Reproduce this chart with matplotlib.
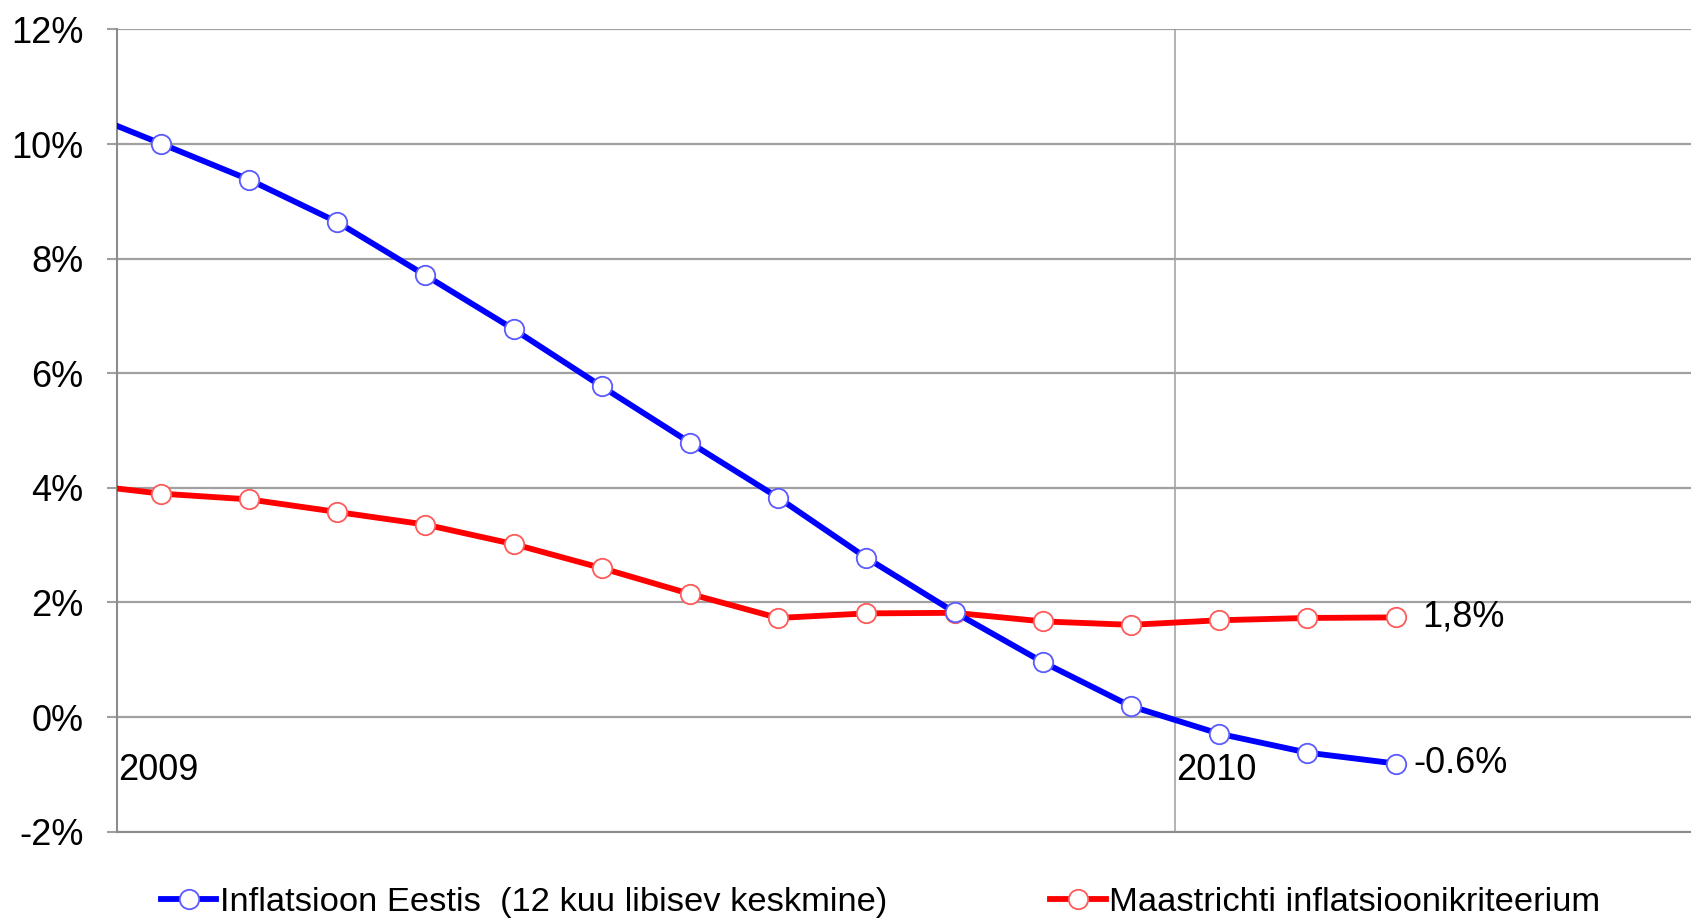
# Eesti inflatsioon vs Maastrichti kriteerium, 2009-2010
import numpy as np
import matplotlib
matplotlib.use("Agg")
import matplotlib.pyplot as plt

plt.rcParams["font.family"] = ["Liberation Sans", "DejaVu Sans"]

# kuud: 2008-12 ... 2010-03 (esimene punkt jääb telje taha, ilma markerita)
kuud = ["2008-12", "2009-01", "2009-02", "2009-03", "2009-04", "2009-05", "2009-06",
        "2009-07", "2009-08", "2009-09", "2009-10", "2009-11", "2009-12",
        "2010-01", "2010-02", "2010-03"]
eesti = [10.63, 10.01, 9.38, 8.64, 7.71, 6.77, 5.77, 4.79, 3.83, 2.78, 1.83,
         0.96, 0.19, -0.29, -0.62, -0.81]
maastricht = [4.08, 3.90, 3.80, 3.58, 3.36, 3.02, 2.60, 2.15, 1.73, 1.81, 1.82,
              1.67, 1.61, 1.69, 1.73, 1.74]
aasta_sildid = ["2009", "2010"]
lopp_sildid = ["1,8%", "-0.6%"]
y_ticks = [-2, 0, 2, 4, 6, 8, 10, 12]

x = np.arange(len(kuud)) - 1

fig = plt.figure(figsize=(16.91, 9.19), dpi=100)
ax = fig.add_axes([0.069, 0.095, 0.931, 0.8729])

ax.plot(x, eesti, color="#0000ff", lw=4.2, marker="o", ms=14, mfc="white",
        mec="#5a5aff", mew=1.3, markevery=slice(1, None), zorder=4,
        label="Inflatsioon Eestis  (12 kuu libisev keskmine)")
ax.plot(x, maastricht, color="#ff0000", lw=4.2, marker="o", ms=14, mfc="white",
        mec="#ff5a5a", mew=1.3, markevery=slice(1, None), zorder=3,
        label="Maastrichti inflatsioonikriteerium")

ax.set_xlim(-0.5, 17.35)
ax.set_ylim(-2, 12)
ax.set_yticks(y_ticks)
ax.set_yticklabels([f"{t}%" for t in y_ticks], fontsize=26)
ax.set_xticks([11.5])
ax.set_xticklabels([])
ax.tick_params(axis="x", length=0)
ax.tick_params(axis="y", length=7, width=1.5, color="#a0a0a0", pad=17)

ax.grid(axis="y", color="#a0a0a0", lw=1.6, zorder=0)
ax.grid(axis="x", color="#a6a6a6", lw=1.2, zorder=0)
for s in ["top", "right"]:
    ax.spines[s].set_visible(False)
ax.spines["left"].set_color("#8c8c8c")
ax.spines["left"].set_linewidth(1.5)
ax.spines["bottom"].set_color("#8c8c8c")
ax.spines["bottom"].set_linewidth(1.5)

# aastad
ax.text(-0.48, -0.93, aasta_sildid[0], fontsize=26, va="center", ha="left")
ax.text(11.51, -0.93, aasta_sildid[1], fontsize=26, va="center", ha="left")

# viimased väärtused
ax.annotate(lopp_sildid[0], xy=(x[-1], maastricht[-1]), xytext=(19.5, 0),
            textcoords="offset points", fontsize=26, va="center", ha="left")
ax.annotate(lopp_sildid[1], xy=(x[-1], eesti[-1]), xytext=(13, 0),
            textcoords="offset points", fontsize=26, va="center", ha="left")

fig.legend(loc="center left", bbox_to_anchor=(161 / 1691, 1 - 902 / 919),
           ncol=2, frameon=False, fontsize=24.8, handlelength=1.6,
           handletextpad=0.1, columnspacing=4.75, borderpad=0, borderaxespad=0)

fig.savefig("out.png", dpi=100)
